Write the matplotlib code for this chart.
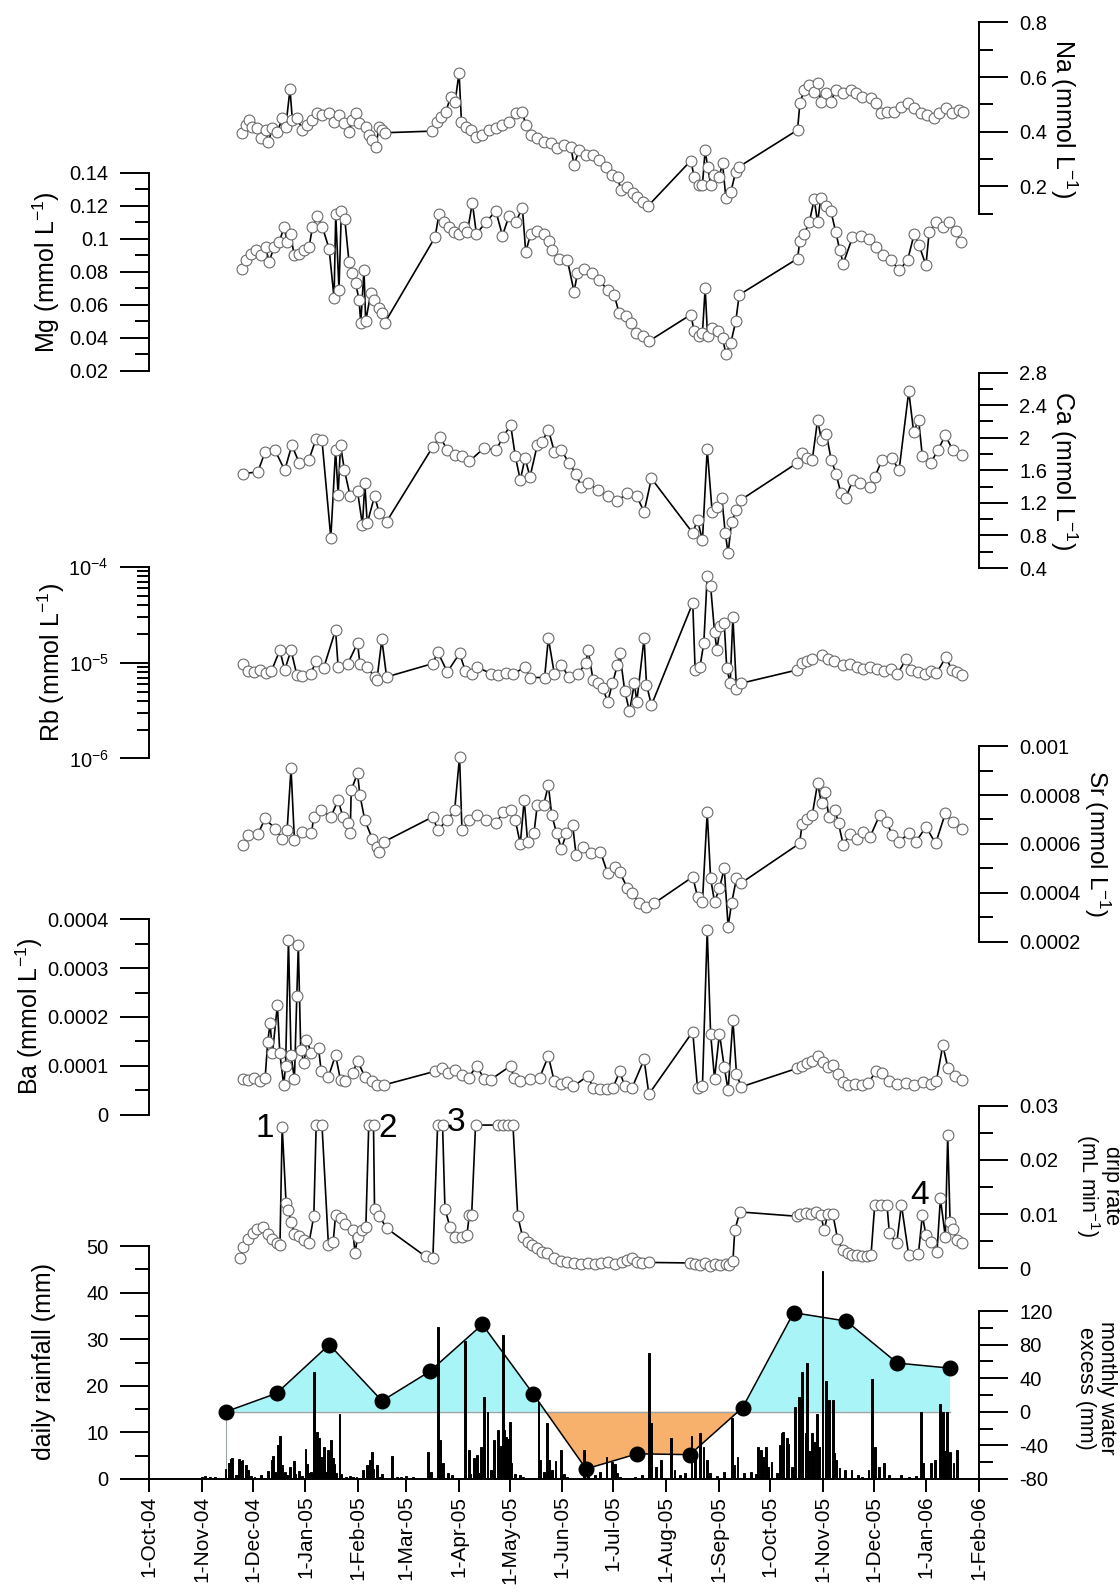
import numpy as np
import matplotlib
matplotlib.use('Agg')
import matplotlib.pyplot as plt
import matplotlib.dates as mdates
from matplotlib.ticker import MultipleLocator, FixedLocator, FuncFormatter, LogLocator, NullFormatter

plt.rcParams['font.family'] = ['Liberation Sans', 'DejaVu Sans']
plt.rcParams['mathtext.default'] = 'regular'
plt.rcParams['axes.unicode_minus'] = False

# ---- data (x = days after 1-Oct-2004) ----
na_day = [54.9, 56.9, 58.8, 60.8, 63.7, 65.7, 68.6, 70.2, 72.5, 75.5, 78.4, 80.4, 82.9, 84.3, 87.2, 90.2, 93.1,
          96.1, 99.0, 102.0, 105.9, 108.8, 111.7, 114.7, 117.6, 119.6, 121.5, 123.5, 127.4, 129.4, 131.3, 133.3,
          135.3, 137.2, 138.6,
          166.6, 169.6, 171.5, 174.5, 177.4, 180.0, 182.3, 183.7, 186.2, 189.2, 192.1, 196.0, 200.0, 203.9, 207.8,
          211.7, 215.6, 219.5, 221.5, 224.4, 228.4, 232.3, 236.2, 240.1, 244.0, 248.0, 249.9, 252.9, 256.8, 260.8,
          264.7, 268.6, 272.5, 275.5, 277.4, 281.3, 284.3, 287.2, 290.2, 293.1,
          318.6, 320.5, 323.5, 325.4, 327.0, 328.4, 330.3, 332.3, 335.2, 337.2, 339.2, 342.1, 345.0, 347.0,
          381.3, 382.7, 385.2, 388.2, 391.1, 393.1, 395.0, 398.0, 400.9, 403.8, 407.8, 412.7, 415.6, 419.5, 424.4,
          427.4, 430.3, 434.2, 438.1, 442.0, 446.0, 449.9, 453.8, 457.7, 461.7, 464.6, 468.5, 472.4, 476.4, 478.3]
na_val = [0.394, 0.424, 0.443, 0.418, 0.412, 0.376, 0.406, 0.363, 0.412, 0.400, 0.449, 0.418, 0.555, 0.443, 0.449,
          0.406, 0.424, 0.443, 0.467, 0.461, 0.467, 0.437, 0.461, 0.431, 0.400, 0.443, 0.467, 0.431, 0.418, 0.388,
          0.370, 0.343, 0.418, 0.406, 0.396,
          0.402, 0.437, 0.455, 0.473, 0.528, 0.510, 0.616, 0.437, 0.418, 0.406, 0.379, 0.388, 0.406, 0.412, 0.424,
          0.437, 0.467, 0.473, 0.424, 0.388, 0.376, 0.363, 0.357, 0.339, 0.351, 0.345, 0.278, 0.333, 0.315, 0.315,
          0.296, 0.272, 0.241, 0.235, 0.187, 0.199, 0.174, 0.162, 0.144, 0.126,
          0.294, 0.235, 0.205, 0.205, 0.333, 0.272, 0.205, 0.241, 0.235, 0.284, 0.156, 0.180, 0.254, 0.272,
          0.406, 0.504, 0.553, 0.571, 0.547, 0.577, 0.510, 0.540, 0.510, 0.553, 0.540, 0.553, 0.540, 0.528, 0.522,
          0.504, 0.467, 0.473, 0.473, 0.492, 0.504, 0.485, 0.467, 0.461, 0.449, 0.467, 0.485, 0.467, 0.479, 0.473]

mg_day = [54.9, 56.9, 59.8, 62.7, 65.7, 68.6, 70.6, 73.5, 76.5, 79.4, 81.4, 83.3, 85.3, 88.2, 91.2, 94.1, 96.1,
          99.0, 102.0, 105.9, 108.8, 109.8, 111.7, 113.1, 115.1, 117.6, 119.6, 121.5, 123.5, 124.5, 126.4, 127.4,
          130.4, 132.3, 135.3, 137.2, 138.6,
          168.2, 170.5, 173.5, 176.4, 179.4, 182.3, 185.2, 187.2, 190.1, 192.5, 198.0, 203.9, 207.8, 211.7, 215.6,
          219.5, 221.5, 224.4, 228.4, 232.3, 235.2, 237.2, 241.1, 246.0, 249.9, 251.9, 255.8, 260.7, 264.7, 269.6,
          273.5, 276.4, 280.4, 283.3, 286.2, 290.2, 294.1,
          318.6, 320.5, 323.5, 325.4, 327.0, 328.4, 331.3, 334.3, 337.2, 339.2, 342.1, 345.0, 347.0,
          381.3, 382.7, 385.2, 388.2, 391.1, 393.1, 395.0, 398.0, 400.9, 403.8, 406.2, 408.2, 413.6, 418.5, 423.4,
          427.4, 431.3, 436.2, 441.1, 446.0, 449.9, 452.8, 456.8, 458.7, 462.6, 466.6, 470.5, 474.4, 477.3]
mg_val = [0.082, 0.087, 0.091, 0.093, 0.090, 0.095, 0.086, 0.095, 0.098, 0.107, 0.098, 0.103, 0.090, 0.091, 0.093,
          0.095, 0.107, 0.114, 0.107, 0.094, 0.064, 0.115, 0.069, 0.117, 0.112, 0.086, 0.079, 0.073, 0.063, 0.049,
          0.081, 0.050, 0.067, 0.063, 0.058, 0.055, 0.049,
          0.101, 0.115, 0.110, 0.107, 0.104, 0.103, 0.107, 0.104, 0.122, 0.103, 0.110, 0.117, 0.102, 0.114, 0.110,
          0.119, 0.092, 0.103, 0.105, 0.103, 0.099, 0.093, 0.088, 0.087, 0.068, 0.079, 0.082, 0.079, 0.075, 0.069,
          0.066, 0.055, 0.053, 0.049, 0.043, 0.041, 0.038,
          0.054, 0.044, 0.041, 0.043, 0.070, 0.041, 0.046, 0.044, 0.040, 0.030, 0.037, 0.050, 0.066,
          0.088, 0.099, 0.103, 0.110, 0.124, 0.110, 0.125, 0.120, 0.117, 0.104, 0.093, 0.085, 0.101, 0.102, 0.100,
          0.095, 0.090, 0.087, 0.081, 0.087, 0.103, 0.096, 0.084, 0.104, 0.110, 0.107, 0.110, 0.105, 0.098]

ca_day = [55.5, 64.0, 68.3, 74.0, 79.8, 84.0, 88.3, 94.0, 98.3, 101.7, 106.9, 109.7, 111.2, 112.6, 114.9, 118.3,
          122.6, 125.5, 126.9, 128.3, 132.6, 135.5, 139.7,
          166.9, 171.1, 175.4, 179.7, 183.9, 188.3, 196.8, 204.0, 208.3, 212.6, 215.4, 218.3, 221.1, 224.0, 228.3,
          231.1, 234.8, 238.3, 242.5, 246.8, 251.1, 254.0, 258.3, 264.0, 269.7, 275.4, 281.1, 286.8, 291.1, 295.4,
          319.7, 322.5, 325.4, 328.2, 331.1, 333.9, 336.8, 338.8, 340.5, 342.5, 345.4, 348.2,
          381.1, 384.0, 387.0, 390.0, 393.1, 395.4, 398.2, 401.1, 403.9, 406.8, 409.6, 413.9, 418.2, 423.9, 426.8,
          431.0, 436.8, 441.0, 446.7, 449.6, 452.5, 454.7, 459.6, 463.9, 468.2, 472.5, 478.2]
ca_val = [1.56, 1.58, 1.83, 1.85, 1.60, 1.91, 1.69, 1.73, 1.99, 1.97, 0.77, 1.85, 1.30, 1.91, 1.60, 1.28,
          1.34, 0.93, 1.44, 0.95, 1.28, 1.07, 0.97,
          1.89, 2.01, 1.85, 1.79, 1.77, 1.71, 1.87, 1.85, 2.01, 2.16, 1.77, 1.48, 1.75, 1.52, 1.91,
          1.95, 2.10, 1.83, 1.85, 1.69, 1.56, 1.40, 1.44, 1.36, 1.28, 1.22, 1.32, 1.28, 1.09, 1.50,
          0.83, 0.99, 0.74, 1.86, 1.09, 1.15, 1.26, 0.83, 0.58, 0.97, 1.11, 1.24,
          1.69, 1.81, 1.75, 1.73, 2.22, 1.97, 2.05, 1.73, 1.56, 1.32, 1.26, 1.48, 1.44, 1.40, 1.52,
          1.73, 1.75, 1.60, 2.57, 2.07, 2.22, 1.77, 1.69, 1.85, 2.03, 1.85, 1.79]

rb_day = [55.5, 58.5, 62.0, 65.0, 69.0, 72.0, 76.9, 79.8, 83.5, 86.9, 90.0, 95.0, 98.3, 102.6, 109.7, 111.2,
          116.9, 122.6, 124.0, 128.3, 132.6, 134.0, 136.9, 139.7,
          166.9, 169.7, 175.4, 182.6, 186.0, 190.0, 192.6, 201.2, 205.0, 210.0, 214.0, 221.1, 224.0, 232.6, 234.8,
          238.3, 242.5, 246.8, 252.5, 256.8, 258.2, 261.1, 264.0, 266.8, 269.7, 272.5, 275.4, 276.8, 279.7, 282.5,
          285.4, 286.8, 291.1, 292.5, 295.4,
          319.7, 321.1, 323.9, 326.2, 328.2, 330.2, 332.5, 333.9, 335.9, 338.2, 339.7, 341.7, 343.3, 345.4, 348.2,
          381.1, 384.0, 387.0, 390.0, 395.6, 399.0, 403.0, 408.0, 412.0, 416.0, 420.0, 424.0, 428.0, 432.0, 436.0,
          440.0, 445.3, 448.0, 452.0, 456.0, 460.0, 463.0, 468.7, 472.0, 475.0, 478.2]
rb_val = [9.8e-6, 8.2e-6, 8.0e-6, 8.4e-6, 7.8e-6, 8.2e-6, 1.35e-5, 8.4e-6, 1.35e-5, 7.5e-6, 7.2e-6, 7.6e-6,
          1.05e-5, 8.7e-6, 2.2e-5, 9.0e-6, 9.8e-6, 1.6e-5, 9.8e-6, 9.0e-6, 7.1e-6, 6.6e-6, 1.75e-5, 7.1e-6,
          9.8e-6, 1.3e-5, 8.0e-6, 1.25e-5, 8.2e-6, 7.6e-6, 9.0e-6, 7.7e-6, 7.5e-6, 7.8e-6, 7.6e-6, 9.0e-6, 7.0e-6,
          7.0e-6, 1.8e-5, 7.7e-6, 9.4e-6, 7.1e-6, 7.7e-6, 1.0e-5, 1.35e-5, 6.6e-6, 6.1e-6, 5.4e-6, 3.9e-6, 6.1e-6,
          9.4e-6, 1.25e-5, 5.1e-6, 3.1e-6, 6.1e-6, 3.9e-6, 1.8e-5, 5.9e-6, 3.6e-6,
          4.2e-5, 8.4e-6, 9.0e-6, 1.6e-5, 8.1e-5, 6.3e-5, 2.1e-5, 1.35e-5, 2.4e-5, 2.6e-5, 8.7e-6, 6.1e-6, 3.0e-5,
          5.3e-6, 6.1e-6,
          8.4e-6, 1.0e-5, 1.05e-5, 1.1e-5, 1.2e-5, 1.1e-5, 1.05e-5, 9.5e-6, 9.8e-6, 9.0e-6, 8.5e-6, 9.0e-6, 8.6e-6,
          8.2e-6, 8.5e-6, 7.6e-6, 1.1e-5, 8.4e-6, 8.0e-6, 7.7e-6, 8.2e-6, 7.8e-6, 1.15e-5, 8.3e-6, 7.9e-6, 7.4e-6]

sr_day = [55.5, 58.3, 64.0, 68.3, 74.0, 78.3, 81.2, 83.5, 85.5, 89.8, 95.5, 96.9, 101.2, 106.9, 111.2, 114.0,
          116.9, 118.3, 118.9, 122.6, 124.0, 126.9, 131.2, 134.0, 135.5, 138.3,
          166.9, 169.7, 175.4, 179.7, 182.6, 184.0, 188.3, 192.6, 198.3, 204.0, 208.3, 212.6, 215.4, 218.3, 220.6,
          222.6, 226.3, 228.3, 232.0, 234.8, 236.8, 239.7, 242.5, 245.4, 249.1, 251.1, 255.4, 259.7, 265.4, 269.7,
          274.0, 276.8, 281.1, 284.0, 288.3, 292.5, 296.8,
          319.7, 322.5, 325.4, 328.2, 330.2, 332.5, 335.4, 338.2, 340.5, 342.5, 345.4, 348.2,
          382.5, 384.0, 387.0, 390.0, 393.1, 395.4, 397.6, 399.7, 403.4, 405.4, 408.2, 412.0, 416.0, 420.0, 424.0,
          429.6, 433.9, 436.8, 441.0, 446.7, 451.0, 456.8, 462.5, 468.2, 472.5, 478.2]
sr_val = [5.95e-4, 6.36e-4, 6.40e-4, 7.04e-4, 6.63e-4, 6.22e-4, 6.57e-4, 9.09e-4, 6.16e-4, 6.50e-4, 6.43e-4,
          7.11e-4, 7.38e-4, 7.11e-4, 7.79e-4, 7.11e-4, 6.84e-4, 6.43e-4, 8.20e-4, 8.89e-4, 8.00e-4, 6.97e-4,
          6.22e-4, 5.88e-4, 5.68e-4, 6.09e-4,
          7.11e-4, 6.57e-4, 6.97e-4, 7.38e-4, 9.57e-4, 6.57e-4, 6.97e-4, 7.18e-4, 6.97e-4, 6.84e-4, 7.32e-4,
          7.38e-4, 6.97e-4, 6.00e-4, 7.79e-4, 6.09e-4, 6.43e-4, 7.59e-4, 7.59e-4, 8.40e-4, 7.18e-4, 6.43e-4,
          5.81e-4, 6.43e-4, 6.77e-4, 5.54e-4, 5.88e-4, 5.61e-4, 5.68e-4, 4.79e-4, 5.06e-4, 4.86e-4, 4.20e-4,
          3.97e-4, 3.56e-4, 3.43e-4, 3.56e-4,
          4.65e-4, 3.84e-4, 3.63e-4, 7.30e-4, 4.59e-4, 3.63e-4, 4.18e-4, 5.00e-4, 2.61e-4, 3.56e-4, 4.59e-4, 4.40e-4,
          6.02e-4, 6.80e-4, 7.00e-4, 7.20e-4, 8.48e-4, 7.66e-4, 8.14e-4, 7.11e-4, 7.38e-4, 6.84e-4, 5.95e-4,
          6.40e-4, 6.20e-4, 6.50e-4, 6.30e-4, 7.18e-4, 6.90e-4, 6.36e-4, 6.09e-4, 6.43e-4, 6.09e-4, 6.70e-4,
          6.02e-4, 7.25e-4, 6.90e-4, 6.60e-4]

ba_day = [55.5, 58.5, 62.0, 65.0, 68.3, 69.8, 71.2, 72.6, 75.5, 76.9, 79.2, 80.3, 82.0, 83.5, 85.5, 86.9, 87.8,
          89.2, 91.2, 92.6, 95.5, 99.7, 101.2, 105.5, 109.7, 112.6, 115.4, 119.7, 122.6, 126.9, 131.2, 134.0, 138.3,
          168.3, 172.0, 176.0, 180.0, 184.0, 188.0, 192.6, 197.0, 201.0, 212.6, 214.5, 218.0, 224.0, 229.7, 234.8,
          238.3, 242.0, 246.0, 249.5, 258.2, 261.1, 265.0, 269.0, 272.8, 276.8, 279.7, 284.0, 291.1, 293.9,
          319.7, 322.5, 325.4, 328.2, 330.2, 332.5, 335.4, 338.2, 340.5, 343.3, 345.4, 348.2,
          381.1, 384.0, 387.0, 390.0, 393.1, 396.0, 399.0, 402.0, 405.0, 408.0, 411.0, 415.0, 419.0, 423.0, 427.6,
          431.0, 435.0, 440.0, 445.0, 450.0, 455.0, 460.0, 463.0, 466.7, 469.8, 474.0, 478.2]
ba_val = [7.4e-5, 7.2e-5, 7.5e-5, 7.0e-5, 7.6e-5, 1.49e-4, 1.87e-4, 1.26e-4, 2.25e-4, 1.26e-4, 6.1e-5, 1.0e-4,
          3.58e-4, 1.22e-4, 7.3e-5, 2.42e-4, 3.48e-4, 1.33e-4, 1.05e-4, 1.53e-4, 1.26e-4, 1.36e-4, 9.0e-5, 7.8e-5,
          1.22e-4, 7.1e-5, 6.8e-5, 8.5e-5, 1.1e-4, 7.8e-5, 6.8e-5, 6.1e-5, 6.1e-5,
          8.9e-5, 9.6e-5, 8.5e-5, 9.2e-5, 8.2e-5, 7.6e-5, 1.0e-4, 7.4e-5, 7.2e-5, 1.0e-4, 7.6e-5, 7.0e-5, 7.4e-5,
          7.6e-5, 1.2e-4, 6.8e-5, 6.2e-5, 6.6e-5, 5.8e-5, 8.0e-5, 5.4e-5, 5.3e-5, 5.3e-5, 5.5e-5, 8.9e-5, 5.8e-5,
          5.5e-5, 1.13e-4, 4.2e-5,
          1.7e-4, 5.4e-5, 5.8e-5, 3.78e-4, 1.66e-4, 7.4e-5, 1.66e-4, 9.8e-5, 5.0e-5, 1.94e-4, 8.4e-5, 5.7e-5,
          9.5e-5, 1.0e-4, 1.05e-4, 1.1e-4, 1.2e-4, 1.08e-4, 9.8e-5, 1.02e-4, 8.4e-5, 6.6e-5, 6.0e-5, 6.2e-5,
          6.0e-5, 6.5e-5, 9.0e-5, 8.5e-5, 7.0e-5, 6.2e-5, 6.5e-5, 6.0e-5, 6.6e-5, 6.2e-5, 7.0e-5, 1.42e-4,
          9.5e-5, 8.0e-5, 7.2e-5]

drip_day = [53.5, 55.5, 58.3, 61.2, 63.5, 66.9, 69.8, 72.6, 75.5, 77.0, 78.3, 80.6, 81.8, 83.5, 85.5, 88.3, 91.2,
            94.0, 96.9, 98.3, 101.7, 105.5, 108.3, 109.7, 112.6, 115.4, 119.7, 121.2, 122.6, 125.5, 127.5, 129.2,
            132.0, 132.6, 135.5, 139.7,
            162.6, 166.9, 169.7, 172.6, 174.0, 176.9, 179.7, 184.0, 186.9, 188.3, 189.7, 192.0, 205.4, 208.0,
            211.0, 214.0, 216.8, 219.7, 222.6, 225.4, 228.3, 231.1, 234.0, 238.0, 242.0, 246.0, 250.0, 254.0,
            258.0, 262.0, 266.0, 270.0, 274.0, 278.0, 281.0, 284.0, 287.0, 290.0, 294.0,
            318.0, 321.0, 324.0, 327.0, 330.0, 333.0, 336.0, 339.0, 341.0, 343.3, 344.4, 347.4,
            381.0, 383.0, 386.0, 389.0, 392.0, 395.0, 397.0, 399.0, 402.0, 404.8, 407.8, 410.7, 413.5, 416.4,
            419.3, 422.1, 424.5, 426.7, 430.2, 433.9, 435.3, 439.6, 442.4, 446.7, 452.4, 454.7, 456.8, 459.6,
            463.3, 465.3, 468.2, 469.6, 471.0, 472.5, 475.3, 478.2]
drip_val = [0.0019, 0.0040, 0.0055, 0.0066, 0.0072, 0.0076, 0.0064, 0.0055, 0.0046, 0.0043, 0.0261, 0.0120,
            0.0108, 0.0086, 0.0064, 0.0060, 0.0052, 0.0046, 0.0096, 0.0264, 0.0264, 0.0043, 0.0049, 0.0098,
            0.0092, 0.0082, 0.0071, 0.0028, 0.0058, 0.0070, 0.0077, 0.0264, 0.0264, 0.0110, 0.0096, 0.0074,
            0.0022, 0.0019, 0.0264, 0.0264, 0.0110, 0.0077, 0.0058, 0.0058, 0.0061, 0.0098, 0.0098, 0.0264,
            0.0264, 0.0264, 0.0264, 0.0264, 0.0096, 0.0058, 0.0049, 0.0043, 0.0037, 0.0031, 0.0028, 0.0020,
            0.0013, 0.0011, 0.0010, 0.0009, 0.0010, 0.0008, 0.0010, 0.0012, 0.0009, 0.0011, 0.0015, 0.0020,
            0.0012, 0.0010, 0.0011,
            0.0010, 0.0008, 0.0006, 0.0010, 0.0005, 0.0008, 0.0006, 0.0009, 0.0007, 0.0013, 0.0070, 0.0104,
            0.0096, 0.0100, 0.0102, 0.0100, 0.0103, 0.0098, 0.0070, 0.0100, 0.0101, 0.0055, 0.0034, 0.0028,
            0.0025, 0.0024, 0.0023, 0.0022, 0.0024, 0.0117, 0.0117, 0.0117, 0.0065, 0.0046, 0.0117, 0.0024,
            0.0027, 0.0098, 0.0061, 0.0049, 0.0030, 0.0129, 0.0058, 0.0245, 0.0086, 0.0072, 0.0052, 0.0046]

event_labels = ['1', '2', '3', '4']
event_day = [68.3, 140.3, 180.3, 453.0]
event_val = [0.0258, 0.0258, 0.0268, 0.0135]

rain_day = [31, 33, 36, 39, 45, 47, 48, 49, 51, 53, 54, 55, 57, 58, 60, 62, 66, 70, 72, 73, 74, 76, 77, 78, 79,
            80, 81, 83, 85, 86, 88, 90, 92, 93, 94, 95, 97, 98, 99, 100, 101, 102, 103, 104, 105, 106, 107, 108,
            109, 110, 112, 113, 116, 118, 120, 122, 124, 126, 128, 129, 130, 131, 132, 134, 136, 137, 143, 146,
            148, 151, 155, 160, 164, 166, 170, 171, 172, 173, 176, 178, 181, 186, 188, 189, 191, 193, 194, 195,
            197, 199, 201, 203, 205, 206, 207, 208, 209, 210, 211, 212, 213, 215, 218, 220, 229, 230, 232, 234,
            235, 237, 239, 242, 244, 246, 256, 258, 262, 265, 269, 272, 274, 275, 277, 286, 290, 294, 295, 298,
            301, 307, 309, 312, 315, 319, 321, 324, 326, 328, 330, 334, 338, 343, 344, 346, 350, 354, 357, 358,
            360, 361, 363, 364, 366, 369, 371, 372, 373, 375, 376, 378, 380, 382, 384, 386, 387, 388, 390, 391,
            393, 394, 396, 398, 399, 400, 402, 403, 404, 406, 409, 413, 417, 419, 423, 425, 427, 429, 432, 435,
            442, 447, 451, 454, 455, 460, 462, 465, 466, 467, 468, 469, 471, 473, 475]
rain_mm = [0.5, 0.6, 0.4, 0.5, 2.1, 3.4, 4.2, 4.4, 0.8, 4.3, 3.9, 4.0, 3.0, 1.9, 0.6, 0.5, 0.9, 1.8, 4.0, 4.9,
           1.5, 7.3, 9.2, 3.0, 1.0, 1.5, 0.8, 2.6, 3.9, 1.0, 1.8, 0.6, 6.4, 3.2, 1.2, 1.5, 23.0, 2.5, 10.1, 8.7,
           4.8, 2.0, 6.9, 1.5, 6.2, 2.8, 8.4, 4.5, 3.2, 1.2, 14.0, 1.0, 0.5, 0.6, 0.4, 0.5, 0.3, 1.9, 3.0, 1.5,
           4.0, 5.9, 2.2, 3.0, 0.4, 1.0, 4.9, 0.5, 0.5, 0.6, 0.4, 0.3, 5.9, 1.6, 32.6, 8.4, 2.0, 3.4, 1.2, 0.9,
           0.3, 29.7, 6.2, 1.0, 4.4, 5.1, 1.2, 6.9, 17.5, 14.4, 2.0, 8.4, 10.5, 3.0, 7.0, 31.0, 10.5, 9.1, 8.6,
           12.3, 3.4, 1.0, 0.8, 0.5, 16.5, 4.0, 1.5, 12.0, 4.0, 2.0, 3.8, 6.2, 1.0, 0.5, 6.2, 2.3, 0.8, 1.6, 4.8,
           3.7, 3.3, 1.2, 0.5, 0.4, 0.9, 27.0, 12.0, 2.6, 4.0, 8.7, 2.0, 0.8, 1.2, 9.2, 5.5, 9.8, 6.9, 4.0, 1.2,
           0.7, 1.5, 13.0, 3.0, 4.8, 1.2, 1.6, 1.0, 6.9, 6.2, 4.8, 6.9, 2.5, 3.7, 1.2, 7.3, 9.8, 10.1, 8.7, 7.6,
           2.6, 15.5, 17.6, 23.0, 9.8, 25.0, 6.0, 9.8, 8.0, 14.0, 6.9, 44.7, 21.0, 5.0, 17.0, 17.0, 5.5, 4.1,
           2.3, 2.0, 1.9, 0.9, 0.5, 2.0, 21.5, 6.9, 2.6, 3.4, 0.9, 0.8, 0.4, 0.6, 14.3, 3.4, 3.4, 4.1, 16.0,
           12.6, 14.3, 6.0, 14.3, 5.9, 3.4, 6.2]

excess_date = ['2004-11-15', '2004-12-15', '2005-01-15', '2005-02-15', '2005-03-15', '2005-04-15',
               '2005-05-15', '2005-06-15', '2005-07-15', '2005-08-15', '2005-09-15', '2005-10-15',
               '2005-11-15', '2005-12-15', '2006-01-15']
excess_mm = [0, 22, 80, 13, 48, 104, 21, -68, -50, -51, 5, 118, 108, 58, 52]

# ---- layout (pixel positions on the 1120 x 1596 canvas) ----
W, H = 1120, 1596
X0, X1 = 149, 979
t0 = mdates.date2num(np.datetime64('2004-10-01'))
t1 = mdates.date2num(np.datetime64('2006-02-01'))
TICK = 14.5

fig = plt.figure(figsize=(W / 100, H / 100), dpi=100)


def panel(top, bottom, side):
    ax = fig.add_axes([X0 / W, 1 - bottom / H, (X1 - X0) / W, (bottom - top) / H])
    ax.patch.set_visible(False)
    for s in ['top', 'bottom', 'left', 'right']:
        ax.spines[s].set_visible(s == side)
    ax.spines[side].set_linewidth(1.4)
    ax.tick_params(axis='x', bottom=False, labelbottom=False)
    ax.yaxis.set_ticks_position(side)
    ax.tick_params(axis='y', which='major', length=21, width=1.4, pad=8, labelsize=TICK)
    ax.tick_params(axis='y', which='minor', length=10, width=1.4)
    ax.set_xlim(t0, t1)
    return ax


def series(ax, day, val):
    ax.plot(t0 + np.asarray(day), val, '-', color='k', lw=1.2, marker='o', ms=7.8, mfc='white',
            mec='#6a6a6a', mew=0.8, clip_on=False)


fmt = FuncFormatter(lambda v, p: f'{v:g}')


def linear_axis(ax, lo, hi, major, minor):
    ax.set_ylim(lo, hi)
    ax.yaxis.set_major_locator(MultipleLocator(major))
    ax.yaxis.set_minor_locator(MultipleLocator(minor))
    ax.yaxis.set_major_formatter(fmt)


# Na
ax = panel(22.4, 213.6, 'right')
series(ax, na_day, na_val)
linear_axis(ax, 0.1, 0.8, 0.2, 0.1)

# Mg
ax = panel(173, 370.6, 'left')
series(ax, mg_day, mg_val)
linear_axis(ax, 0.02, 0.14, 0.02, 0.01)

# Ca
ax = panel(372.6, 568, 'right')
series(ax, ca_day, ca_val)
linear_axis(ax, 0.4, 2.8, 0.4, 0.2)

# Rb (log)
ax = panel(567, 758.4, 'left')
ax.set_yscale('log')
series(ax, rb_day, rb_val)
ax.set_ylim(1e-6, 1e-4)
ax.yaxis.set_major_locator(LogLocator(base=10))
ax.yaxis.set_minor_locator(LogLocator(base=10, subs=np.arange(2, 10)))
ax.yaxis.set_minor_formatter(NullFormatter())
ax.tick_params(axis='y', which='minor', length=9)

# Sr
ax = panel(746.2, 941.6, 'right')
series(ax, sr_day, sr_val)
linear_axis(ax, 0.0002, 0.001, 0.0002, 0.0001)

# Ba
ax = panel(919.3, 1114.7, 'left')
series(ax, ba_day, ba_val)
linear_axis(ax, 0.0, 0.0004, 0.0001, 0.00005)

# drip rate
ax = panel(1105.5, 1268.4, 'right')
series(ax, drip_day, drip_val)
linear_axis(ax, 0.0, 0.03, 0.01, 0.005)
for lab, d, v in zip(event_labels, event_day, event_val):
    ax.text(t0 + d, v, lab, fontsize=24, ha='center', va='center')

# rainfall + monthly water excess
axr = panel(1246, 1479, 'left')
axe = axr.twinx()
axr.set_zorder(axe.get_zorder() + 1)
axr.patch.set_visible(False)

ex_x = mdates.date2num(np.array(excess_date, dtype='datetime64[D]'))
ex_y = np.array(excess_mm, dtype=float)
axe.fill_between(ex_x, ex_y, 0, where=ex_y >= 0, interpolate=True, color='#a9f4f7', lw=0)
axe.fill_between(ex_x, ex_y, 0, where=ex_y <= 0, interpolate=True, color='#f8b16c', lw=0)
axe.plot([ex_x[0], ex_x[-1]], [0, 0], color='#9aa6a6', lw=1.0)
axe.plot([ex_x[0], ex_x[0]], [-80, 0], color='#9aa6a6', lw=0.8)
axe.plot(ex_x, ex_y, '-', color='k', lw=1.1, marker='o', ms=10.5, mfc='k', mec='k')
axe.set_ylim(-80, 197.4)
axe.set_xlim(t0, t1)
for s in ['top', 'bottom', 'left']:
    axe.spines[s].set_visible(False)
axe.spines['right'].set_bounds(-80, 120)
axe.spines['right'].set_linewidth(1.4)
axe.yaxis.set_major_locator(FixedLocator([-80, -40, 0, 40, 80, 120]))
axe.yaxis.set_minor_locator(FixedLocator([-60, -20, 20, 60, 100]))
axe.tick_params(axis='y', which='major', length=21, width=1.4, pad=8, labelsize=TICK)
axe.tick_params(axis='y', which='minor', length=10, width=1.4)

axr.bar(t0 + np.asarray(rain_day), rain_mm, width=1.1, color='k', edgecolor='k', lw=0.7)
axr.set_ylim(0, 50)
axr.yaxis.set_major_locator(MultipleLocator(10))
axr.yaxis.set_minor_locator(MultipleLocator(5))
axr.spines['bottom'].set_visible(True)
axr.spines['bottom'].set_linewidth(1.4)
axr.tick_params(axis='x', bottom=True, labelbottom=True, length=9, width=1.4, pad=3, labelsize=15,
                labelrotation=90)
axr.xaxis.set_major_locator(mdates.MonthLocator())
axr.xaxis.set_major_formatter(FuncFormatter(
    lambda v, p: '{}-{}'.format(mdates.num2date(v).day, mdates.num2date(v).strftime('%b-%y'))))

# axis titles
left_labels = [('Mg (mmol L$^{-1}$)', 46, 272), ('Rb (mmol L$^{-1}$)', 51, 663),
               ('Ba (mmol L$^{-1}$)', 29, 1016), ('daily rainfall (mm)', 44, 1362)]
right_labels = [('Na (mmol L$^{-1}$)', 1064, 118, 18), ('Ca (mmol L$^{-1}$)', 1064, 470, 18),
                ('Sr (mmol L$^{-1}$)', 1097, 844, 17.5), ('drip rate\n(mL min$^{-1}$)', 1098, 1186, 15.5),
                ('monthly water\nexcess (mm)', 1096, 1388, 15.5)]
for txt, x, y in left_labels:
    fig.text(x / W, 1 - y / H, txt, rotation=90, ha='center', va='center', fontsize=18)
for txt, x, y, fs in right_labels:
    fig.text(x / W, 1 - y / H, txt, rotation=270, ha='center', va='center', fontsize=fs,
             linespacing=0.95, multialignment='center')

fig.savefig('out.png', dpi=100)
